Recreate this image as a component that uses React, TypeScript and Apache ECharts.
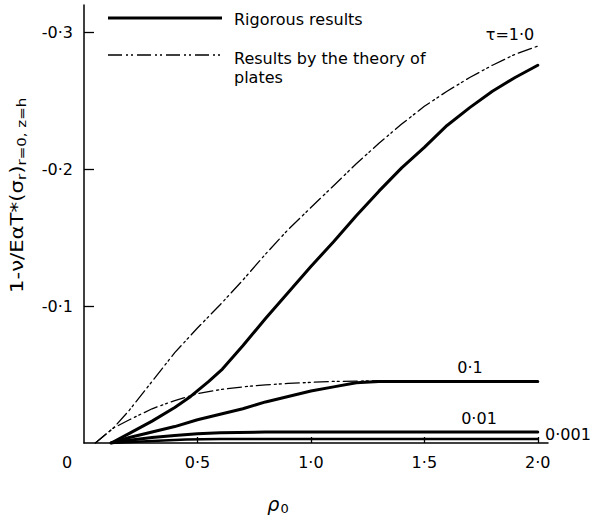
import React, { useEffect, useRef } from 'react';
import * as echarts from 'echarts';

// tau = 1.0
const rig10X = [0.12, 0.2, 0.3, 0.4, 0.47, 0.55, 0.61, 0.7, 0.8, 0.9, 1.0, 1.1, 1.2, 1.3, 1.4, 1.5, 1.6, 1.7, 1.8, 1.9, 2.0];
const rig10Y = [0, -0.007, -0.016, -0.026, -0.034, -0.045, -0.054, -0.071, -0.091, -0.110, -0.129, -0.147, -0.166, -0.184, -0.201, -0.216, -0.232, -0.245, -0.257, -0.267, -0.276];
const plate10X = [0.05, 0.13, 0.2, 0.3, 0.4, 0.5, 0.6, 0.7, 0.8, 0.9, 1.0, 1.1, 1.2, 1.3, 1.4, 1.5, 1.6, 1.7, 1.8, 1.9, 2.0];
const plate10Y = [0, -0.011, -0.024, -0.045, -0.066, -0.084, -0.101, -0.119, -0.138, -0.156, -0.172, -0.188, -0.204, -0.219, -0.233, -0.246, -0.257, -0.267, -0.276, -0.284, -0.290];
// tau = 0.1
const rig01X = [0.12, 0.2, 0.3, 0.4, 0.5, 0.6, 0.7, 0.8, 0.9, 1.0, 1.1, 1.2, 1.3, 1.5, 2.0];
const rig01Y = [0, -0.004, -0.008, -0.012, -0.017, -0.021, -0.025, -0.030, -0.034, -0.038, -0.041, -0.044, -0.045, -0.045, -0.045];
const plate01X = [0.05, 0.13, 0.2, 0.3, 0.4, 0.5, 0.6, 0.7, 0.8, 0.9, 1.0, 1.1, 1.2, 1.3];
const plate01Y = [0, -0.011, -0.017, -0.025, -0.031, -0.036, -0.039, -0.041, -0.0425, -0.0435, -0.0443, -0.045, -0.0452, -0.0455];
// tau = 0.01
const rig001X = [0.12, 0.2, 0.3, 0.4, 0.5, 0.6, 0.8, 2.0];
const rig001Y = [0, -0.002, -0.004, -0.0055, -0.0068, -0.0075, -0.008, -0.008];
// tau = 0.001
const rig0001X = [0.12, 0.3, 0.45, 0.6, 2.0];
const rig0001Y = [0, -0.0015, -0.0025, -0.003, -0.003];

const xTicks = [0.5, 1.0, 1.5, 2.0];
const yTicks = [-0.3, -0.2, -0.1];

const FONT = 'DejaVu Sans';
const zip = (xs: number[], ys: number[]) => xs.map((x, i) => [x, ys[i]]);
const fmt = (v: number) => v.toFixed(1).replace('.', '·');
const DASHDOT = [14, 4, 2, 3, 2, 4];

export default function App() {
  const ref = useRef<HTMLDivElement>(null);
  useEffect(() => {
    const chart = echarts.init(ref.current!, null, { renderer: 'svg' });
    const solid = { color: '#000', width: 3 };
    const plate = { color: '#000', width: 1.3, type: DASHDOT };
    const mk = (name: string, xs: number[], ys: number[], ls: any) => ({
      type: 'line', name, data: zip(xs, ys), symbol: 'none', showSymbol: false,
      smooth: false, lineStyle: { ...ls, join: 'round', cap: 'round' }, z: 3,
    });
    const txt = (text: string, x: number, y: number, align = 'center', extra: any = {}) => ({
      type: 'text', x, y,
      style: { text, fill: '#000', fontFamily: FONT, fontSize: 16, align, verticalAlign: 'middle', ...extra },
    });
    chart.setOption({
      animation: false,
      backgroundColor: '#fff',
      grid: { left: 84, right: 44, top: 5, bottom: 74, containLabel: false },
      xAxis: {
        type: 'value', min: 0, max: 2.045,
        axisLine: { show: true, lineStyle: { color: '#000', width: 1.5 } },
        axisTick: { show: true, inside: true, length: 6, customValues: xTicks, lineStyle: { color: '#000', width: 1.3 } },
        axisLabel: { customValues: xTicks, formatter: fmt, margin: 11, fontSize: 16, fontFamily: FONT, color: '#000' },
        splitLine: { show: false },
      },
      yAxis: {
        type: 'value', min: -0.32, max: 0, inverse: true,
        axisLine: { show: true, lineStyle: { color: '#000', width: 1.5 } },
        axisTick: { show: true, inside: true, length: 10, customValues: yTicks, lineStyle: { color: '#000', width: 1.3 } },
        axisLabel: { customValues: yTicks, formatter: fmt, margin: 11, fontSize: 16, fontFamily: FONT, color: '#000' },
        splitLine: { show: false },
      },
      series: [
        mk('Rigorous τ=1.0', rig10X, rig10Y, solid),
        mk('Plates τ=1.0', plate10X, plate10Y, plate),
        mk('Rigorous τ=0.1', rig01X, rig01Y, solid),
        mk('Plates τ=0.1', plate01X, plate01Y, plate),
        mk('Rigorous τ=0.01', rig001X, rig001Y, solid),
        mk('Rigorous τ=0.001', rig0001X, rig0001Y, { color: '#000', width: 2.5 }),
      ],
      graphic: [
        { type: 'line', shape: { x1: 108, y1: 18, x2: 222, y2: 18 }, style: { stroke: '#000', lineWidth: 3 } },
        { type: 'line', shape: { x1: 108, y1: 55, x2: 222, y2: 55 }, style: { stroke: '#000', lineWidth: 1.3, lineDash: DASHDOT } },
        txt('Rigorous results', 234, 19, 'left'),
        txt('Results by the theory of', 234, 58, 'left'),
        txt('plates', 234, 77, 'left'),
        txt('τ=1·0', 510, 34),
        txt('0·1', 470, 367),
        txt('0·01', 479, 418),
        txt('0·001', 545, 434, 'left'),
        txt('0', 67, 462),
        {
          type: 'text', x: 278, y: 504,
          style: {
            text: '{it|ρ}{sub|0}', align: 'center', verticalAlign: 'middle', fill: '#000',
            rich: {
              it: { fontSize: 19, fontStyle: 'italic', fontFamily: FONT, fill: '#000' },
              sub: { fontSize: 13, fontFamily: FONT, fill: '#000', padding: [8, 0, 0, 1] },
            },
          },
        },
        {
          type: 'text', x: 17, y: 293, rotation: Math.PI / 2, scaleX: 1.25,
          style: {
            text: '1-ν/EαT*(σ{sub|r}){sub|r=0, z=h}', align: 'left', verticalAlign: 'middle', fill: '#000',
            fontSize: 17, fontFamily: FONT,
            rich: {
              sub: { fontSize: 12, fontFamily: FONT, fill: '#000', padding: [9, 0, 0, 0] },
            },
          },
        },
      ],
    });
    return () => chart.dispose();
  }, []);
  return (
    <div
      ref={ref}
      style={{ position: 'absolute', left: 0, top: 0, width: 592, height: 517, background: '#fff' }}
    />
  );
}
